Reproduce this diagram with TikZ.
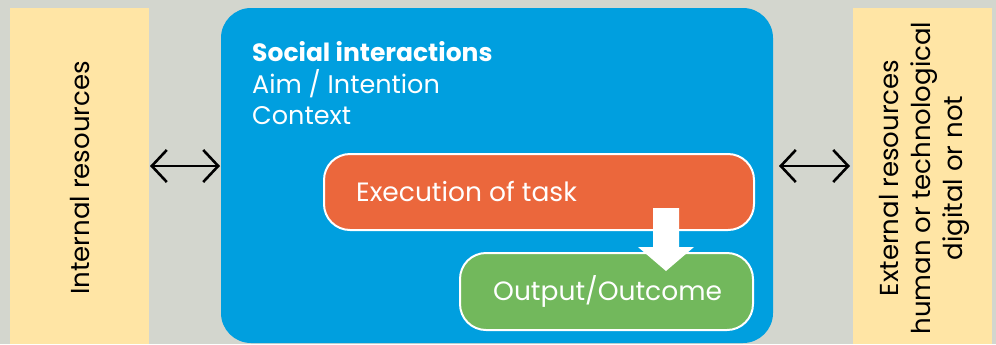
\documentclass[tikz,border=0pt]{standalone}
\usepackage{fontspec}
\setmainfont{Poppins}
\usetikzlibrary{arrows.meta}
\definecolor{bggrey}{HTML}{D3D6CE}
\definecolor{bandyellow}{HTML}{FFE5A5}
\definecolor{mainblue}{HTML}{009FDF}
\definecolor{taskorange}{HTML}{EB673C}
\definecolor{outgreen}{HTML}{72B85C}
\tikzset{
  band/.style={fill=bandyellow, draw=none},
  bandtext/.style={rotate=90, font=\fontsize{26bp}{32bp}\selectfont, text=black, align=center, inner sep=0pt},
  bluetext/.style={anchor=base west, text=white, font=\fontsize{25.5bp}{30bp}\selectfont, inner sep=0pt},
  pill/.style={draw=white, line width=2bp, rounded corners=26bp, anchor=north west, inner sep=0pt},
  pilltext/.style={anchor=base west, text=white, font=\fontsize{26.5bp}{30bp}\selectfont, inner sep=0pt},
  twoway/.style={line width=2.6bp, {Straight Barb[length=15bp,width=32bp]}-{Straight Barb[length=15bp,width=32bp]}},
}
\begin{document}
\begin{tikzpicture}[x=1bp,y=-1bp]
\fill[bggrey] (0,0) rectangle (996,344);
\useasboundingbox (0,0) rectangle (996,344);
% bands
\fill[band] (10,8) rectangle (149,344);
\fill[band] (853,8) rectangle (992,344);
\node[bandtext] (internal) at (80,178) {Internal resources};
\node[bandtext] (external) at (924,178) {External resources\\human or technological\\digital or not};
% blue box
\fill[mainblue, rounded corners=30bp] (221,8) rectangle (773,343);
\coordinate (blueL) at (221,166);
\coordinate (blueR) at (773,166);
\coordinate (bandL) at (149,166);
\coordinate (bandR) at (853,166);
\node[bluetext, font=\fontsize{25bp}{30bp}\selectfont\bfseries] (social) at (252,61) {Social interactions};
\node[bluetext] (aim) at (252,93) {Aim / Intention};
\node[bluetext] (context) at (252,124) {Context};
% task and outcome
\node[pill, fill=taskorange, minimum width=430bp, minimum height=76bp] (task) at (323,153) {};
\node[pilltext] (tasktext) at (356,201) {Execution of task};
\node[pill, fill=outgreen, minimum width=293bp, minimum height=77bp] (outcome) at (459,252) {};
\node[pilltext] (outtext) at (493,300) {Output/Outcome};
% white block arrow
\coordinate (arrowtop) at (666,208);
\fill[white] (653,208) -- (679,208) -- (679,247) -- (694,247) -- (666,271) -- (638,247) -- (653,247) -- cycle;
% two-way arrows
\draw[twoway] ([xshift=1bp]bandL) -- ([xshift=-1bp]blueL);
\draw[twoway] ([xshift=6bp]blueR) -- ([xshift=-3bp]bandR);
\end{tikzpicture}
\end{document}
